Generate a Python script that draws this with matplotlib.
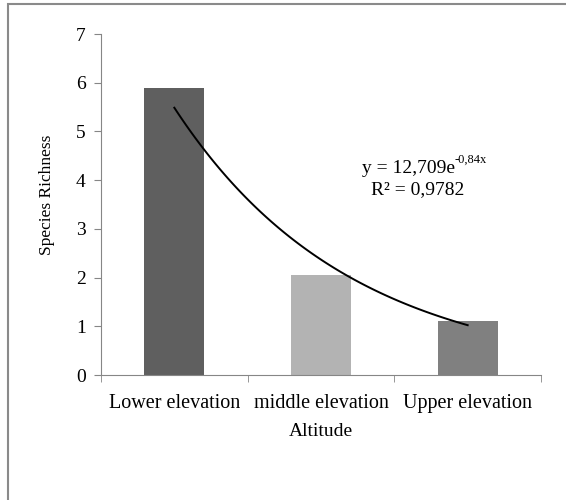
import matplotlib
matplotlib.use('Agg')
import matplotlib.pyplot as plt
from matplotlib.patches import Rectangle
import numpy as np

plt.rcParams['font.family'] = 'Liberation Serif'

categories = ['Lower elevation', 'middle elevation', 'Upper elevation']
richness = [5.9, 2.05, 1.1]
bar_colors = ['#5f5f5f', '#b3b3b3', '#808080']
fit_a = 12.709
fit_b = -0.84
fit_r2 = '0,9782'

fig = plt.figure(figsize=(5.66, 5.0), dpi=100)
ax = fig.add_axes([101/566, 1 - 375/500, 440/566, 341/500])

x = np.arange(1, len(categories) + 1)
ax.bar(x, richness, width=0.41, color=bar_colors)

# exponential trendline from the fit shown on the chart
xs = np.linspace(1, 3, 100)
ax.plot(xs, fit_a * np.exp(fit_b * xs), color='black', lw=1.4)

ax.set_xlim(0.5, 3.5)
ax.set_ylim(0, 7)
ax.set_yticks(range(0, 8))
ax.set_xticks(x)
ax.set_xticklabels(categories)
ax.set_xticks([0.5, 1.5, 2.5, 3.5], minor=True)
ax.tick_params(axis='x', which='major', length=0, labelsize=14.5, pad=14)
ax.tick_params(axis='x', which='minor', length=5, color='#868686', direction='out')
ax.tick_params(axis='y', length=5, color='#868686', labelsize=14, pad=6)

for s in ['top', 'right']:
    ax.spines[s].set_visible(False)
for s in ['left', 'bottom']:
    ax.spines[s].set_color('#868686')

ax.set_xlabel('Altitude', fontsize=14, labelpad=7)
ax.set_ylabel('Species Richness', fontsize=12.5)
ax.yaxis.set_label_coords(-0.105, 0.528)

eq = fig.text(455/566, 1 - 168/500, 'y = 12,709e', ha='right', va='center', fontsize=14)
fig.canvas.draw()
ax.annotate('-0,84x', xy=(1.0, 0.62), xycoords=eq, ha='left', va='bottom', fontsize=9)
fig.text(418/566, 1 - 190/500, 'R² = ' + fit_r2, ha='center', va='center', fontsize=14)

fig.patches.append(Rectangle((8/566, -0.1), 1.2, 1.1 - 4/500, transform=fig.transFigure,
                             fill=False, edgecolor='#8a8a8a', lw=1.5))

fig.savefig('out.png', dpi=100)
